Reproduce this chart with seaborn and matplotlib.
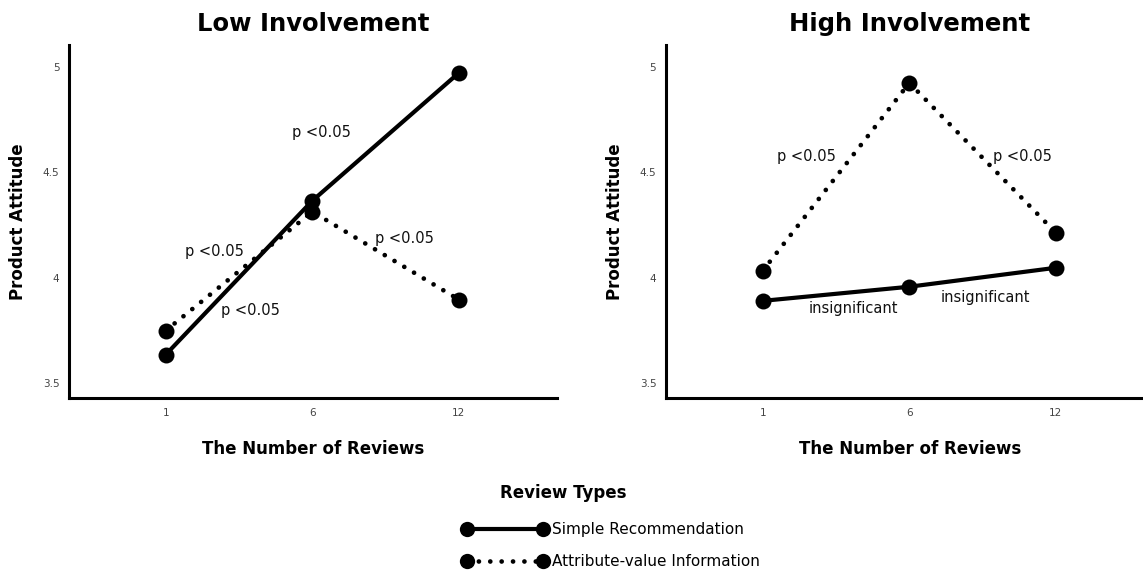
import pandas as pd
import matplotlib
matplotlib.use("Agg")
import matplotlib.pyplot as plt
from matplotlib.lines import Line2D
import seaborn as sns

# data
reviews = ["1", "6", "12"]
review_types = ["Simple Recommendation", "Attribute-value Information"]
low_simple = [3.635, 4.365, 4.972]
low_attr = [3.749, 4.313, 3.896]
high_simple = [3.89, 3.957, 4.047]
high_attr = [4.033, 4.924, 4.213]
y_ticks = [3.5, 4, 4.5, 5]
y_tick_labels = ["3.5", "4", "4.5", "5"]

panels = ["Low Involvement", "High Involvement"]
low_notes = ["p <0.05", "p <0.05", "p <0.05", "p <0.05"]
high_notes = ["p <0.05", "p <0.05", "insignificant", "insignificant"]


def make_frame(simple, attr):
    rows = []
    for r, v in zip(reviews, simple):
        rows.append({"reviews": r, "attitude": v, "type": review_types[0]})
    for r, v in zip(reviews, attr):
        rows.append({"reviews": r, "attitude": v, "type": review_types[1]})
    return pd.DataFrame(rows)


sns.set_theme(style="white")
plt.rcParams['font.family'] = ['DejaVu Sans']
plt.rcParams['text.color'] = 'black'
plt.rcParams['axes.labelcolor'] = 'black'

DOTS = (0, (0.01, 2.4))

fig = plt.figure(figsize=(11.43, 5.74), dpi=100)
ax1 = fig.add_axes([0.0604, 0.3066, 0.427, 0.615])
ax2 = fig.add_axes([0.5827, 0.3066, 0.427, 0.615])

frames = [make_frame(low_simple, low_attr), make_frame(high_simple, high_attr)]
# annotation placement (x in category index, y in data units)
note_pos = [
    [(1.06, 4.687), (0.33, 4.123), (0.575, 3.844), (1.63, 4.185)],
    [(0.30, 4.573), (1.77, 4.573), (0.62, 3.853), (1.52, 3.905)],
]
notes = [low_notes, high_notes]

for ax, df, title, pos, txt in zip([ax1, ax2], frames, panels, note_pos, notes):
    sns.pointplot(data=df, x="reviews", y="attitude", hue="type",
                  order=reviews, hue_order=review_types,
                  palette=["black", "black"], markers=["o", "o"],
                  linestyles=["-", ":"], errorbar=None, legend=False,
                  markersize=11.5, linewidth=3, ax=ax)
    for i, ln in enumerate(ax.lines):
        ln.set_markeredgewidth(0)
        if i == 1:
            ln.set_linestyle(DOTS)
            ln.set_dash_capstyle("round")
            ln.set_linewidth(3.4)
            ln.set_zorder(2)
        else:
            ln.set_zorder(3)

    for (x, y), t in zip(pos, txt):
        ax.text(x, y, t, ha="center", va="center", fontsize=10.5, color="#111")

    ax.set_xlim(-0.66, 2.67)
    ax.set_ylim(3.429, 5.104)
    ax.set_yticks(y_ticks)
    ax.set_yticklabels(y_tick_labels)
    ax.tick_params(axis="both", length=4, width=1, color="#666",
                   labelsize=7.5, labelcolor="#444", pad=3)
    ax.set_title(title, fontsize=17.5, fontweight="bold", pad=10, color="black")
    ax.set_xlabel("The Number of Reviews", fontsize=12, fontweight="bold")
    ax.set_ylabel("Product Attitude", fontsize=12, fontweight="bold")
    ax.xaxis.set_label_coords(0.5, -0.118)
    ax.yaxis.set_label_coords(-0.086, 0.5)
    sns.despine(ax=ax)
    for s in ["left", "bottom"]:
        ax.spines[s].set_linewidth(2.2)
        ax.spines[s].set_color("black")

# legend below the panels
handles = [
    Line2D([], [], color="black", linestyle="-", linewidth=3,
           marker="o", markersize=11, markeredgewidth=0),
    Line2D([], [], color="black", linestyle=DOTS, linewidth=3.4,
           dash_capstyle="round", marker="o", markersize=11, markeredgewidth=0),
]
fig.legend(handles, review_types, loc="upper left",
           bbox_to_anchor=(0.4045, 0.090), frameon=False,
           numpoints=2, handlelength=5.6, handletextpad=0.3,
           fontsize=11, labelspacing=1.1, borderpad=0, borderaxespad=0)
fig.text(563 / 1143, 1 - 493 / 574, "Review Types", ha="center", va="center",
         fontsize=12, fontweight="bold")

fig.savefig("out.png", dpi=100)
